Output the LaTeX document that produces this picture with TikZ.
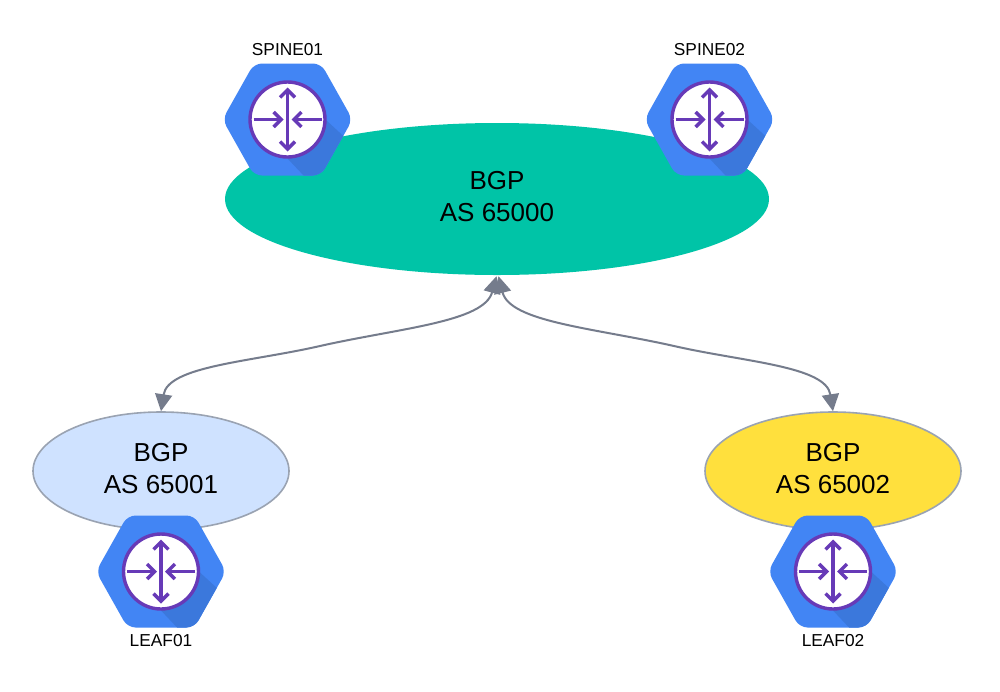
\documentclass[tikz,border=0pt]{standalone}
\usepackage{fontspec}
\setmainfont{Liberation Sans}
\usetikzlibrary{arrows.meta,shapes.geometric}
\definecolor{hexblue}{HTML}{4285F4}
\definecolor{hexshade}{HTML}{3B78DC}
\definecolor{routerpurple}{HTML}{673AB7}
\definecolor{tealfill}{HTML}{00C4A7}
\definecolor{paleblue}{HTML}{CFE2FF}
\definecolor{sunyellow}{HTML}{FFE03D}
\definecolor{linegray}{HTML}{757C8C}
\definecolor{rimgray}{HTML}{9AA3B2}
\tikzset{
  x=1pt,y=-1pt,
  asblob/.style={ellipse,draw=none,inner sep=0pt,font=\fontsize{26}{32}\selectfont,text=black},
  rlabel/.style={inner sep=0pt,font=\fontsize{17.3}{20}\selectfont,text=black},
  rdisc/.style={circle,draw=routerpurple,line width=3.4pt,fill=white,minimum size=75pt,inner sep=0pt},
  rarrow/.style={draw=routerpurple,line width=3.4pt,-{Straight Barb[length=7.5pt,width=15pt,line width=3.4pt]}},
  peerlink/.style={draw=linegray,line width=2pt,-{Triangle[length=17pt,width=17pt]}},
}
\newcommand{\astext}[2]{\raisebox{#1}{\begin{tabular}{@{}c@{}}BGP\\#2\end{tabular}}}
\newcommand{\routericon}[3]{%
  \begin{scope}[shift={(#2,#3)}]
    \begin{scope}
      \clip[rounded corners=8pt] (-65,0) -- (-33.5,-56) -- (33.5,-56) -- (65,0) -- (33.5,56) -- (-33.5,56) -- cycle;
      \fill[hexblue] (-70,-70) rectangle (70,70);
      \fill[hexshade] (0,39) -- (17,57) -- (40,57) -- (64,24) -- (39,1) -- cycle;
    \end{scope}
    \node[rdisc] (#1) at (0,0) {};
    \path[rarrow] (0,0) -- (0,-32);
    \path[rarrow] (0,0) -- (0,32);
    \path[rarrow] (-34,0) -- (-4,0);
    \path[rarrow] (34,0) -- (4,0);
  \end{scope}%
}
\begin{document}
\begin{tikzpicture}
\useasboundingbox (0,0) rectangle (1000,691);
\fill[white] (0,0) rectangle (1000,691);
\node[asblob,fill=tealfill,minimum width=544pt,minimum height=152pt] (core) at (497,199) {\astext{4.5pt}{AS 65000}};
\node[asblob,fill=paleblue,draw=rimgray,line width=1.6pt,minimum width=256pt,minimum height=118pt] (asleft) at (161,471) {\astext{2.5pt}{AS 65001}};
\node[asblob,fill=sunyellow,draw=rimgray,line width=1.6pt,minimum width=256pt,minimum height=118pt] (asright) at (833,471) {\astext{2.5pt}{AS 65002}};
\routericon{spineone}{287.5}{119.5}
\routericon{spinetwo}{709.5}{119.5}
\routericon{leafone}{161}{571.5}
\routericon{leaftwo}{833}{571.5}
\node[rlabel] (lblspineone) at (287.5,49.7) {SPINE01};
\node[rlabel] (lblspinetwo) at (709.5,49.7) {SPINE02};
\node[rlabel] (lblleafone) at (161,641) {LEAF01};
\node[rlabel] (lblleaftwo) at (833,641) {LEAF02};
\coordinate (coretipa) at ([shift={(-0.5,1)}]core.south);
\coordinate (coretipb) at ([shift={(1.5,1)}]core.south);
\coordinate (leftmid) at (320,346);
\coordinate (rightmid) at (674,346);
\draw[peerlink] (leftmid) .. controls (250,362) and (168,366) .. (asleft.north);
\draw[peerlink] (leftmid) .. controls (400,328) and (484,322) .. (coretipa);
\draw[peerlink] (rightmid) .. controls (744,362) and (826,366) .. (asright.north);
\draw[peerlink] (rightmid) .. controls (594,328) and (510,322) .. (coretipb);
\end{tikzpicture}
\end{document}
